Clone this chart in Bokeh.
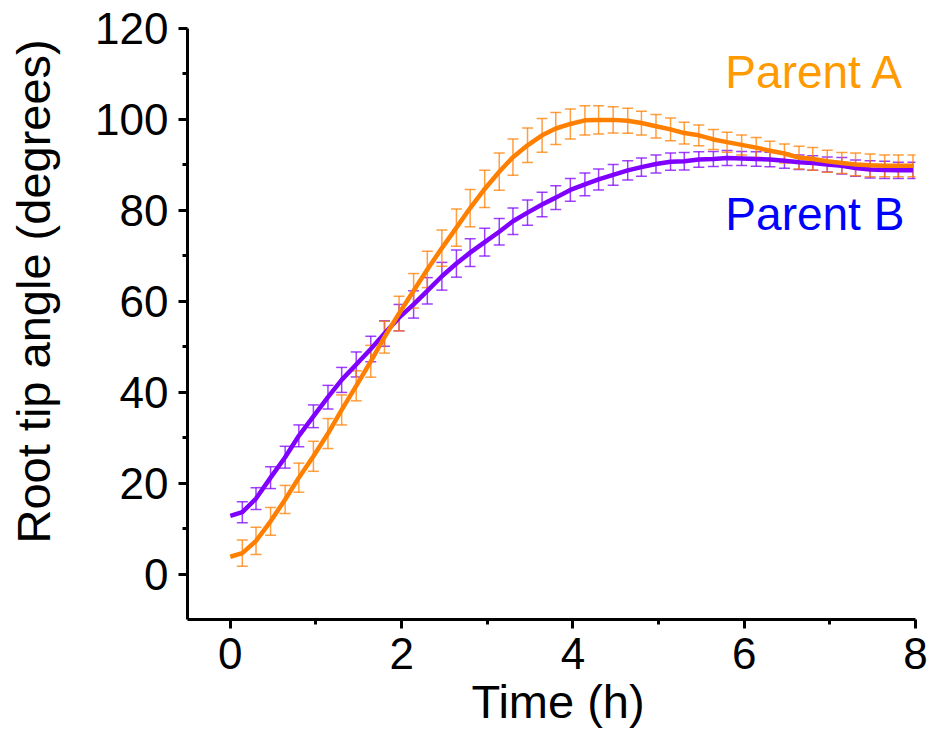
from bokeh.plotting import figure
from bokeh.models import ColumnDataSource, Whisker, TeeHead, Label, FixedTicker, Range1d
from bokeh.embed import file_html
from bokeh.resources import INLINE

time_h = [0, 0.14, 0.30, 0.47, 0.64, 0.80, 0.97,
          1.14, 1.30, 1.47, 1.64, 1.80, 1.97,
          2.14, 2.30, 2.47, 2.64, 2.80, 2.97,
          3.14, 3.30, 3.47, 3.64, 3.80, 3.97,
          4.14, 4.30, 4.47, 4.64, 4.80, 4.97,
          5.14, 5.30, 5.47, 5.64, 5.80, 5.97,
          6.14, 6.30, 6.47, 6.64, 6.80, 6.97,
          7.14, 7.30, 7.47, 7.64, 7.80, 7.97]

parent_a = [3.8, 4.6, 7.3, 11.6, 16.4, 21.2, 25.9, 30.9, 36.1, 41.4, 46.8,
            52.1, 57.3, 62.3, 67.0, 71.7, 76.2, 80.5, 84.7, 88.5, 91.7,
            94.3, 96.5, 98.0, 99.0, 99.8, 99.9, 99.9, 99.7, 99.2, 98.5,
            97.8, 97.0, 96.5, 95.6, 95.0, 94.4, 93.8, 93.1, 92.5, 91.6,
            91.3, 90.8, 90.4, 90.1, 89.9, 89.8, 89.8, 89.8]
parent_a_err = [2.9, 3.0, 3.05, 3.1, 3.2, 3.3, 3.3, 3.3, 3.3, 3.5,
                3.5, 3.8, 3.8, 4.0, 4.0, 4.1, 4.1, 4.1, 4.1, 4.0,
                3.8, 3.7, 3.5, 3.3, 3.2, 3.1, 2.9, 2.75, 2.6, 2.6,
                2.5, 2.4, 2.3, 2.2, 2.2, 2.2, 2.2, 2.1, 2.1, 2.5,
                2.5, 2.4, 2.3, 2.5, 2.5, 2.4, 2.4, 2.4]

parent_b = [12.8, 13.6, 16.6, 21.2, 25.7, 30.4, 34.7, 38.9, 42.7, 46.1, 49.5,
            52.9, 56.4, 59.3, 62.3, 65.5, 68.3, 70.7, 73.0, 75.3, 77.6,
            79.5, 81.3, 82.8, 84.5, 85.7, 86.8, 87.8, 88.8, 89.5, 90.2,
            90.7, 90.8, 91.2, 91.3, 91.5, 91.4, 91.3, 91.2, 90.9, 90.6,
            90.4, 90.1, 89.8, 89.3, 89.0, 88.9, 88.8, 88.8]
parent_b_err = [2.3, 2.4, 2.4, 2.4, 2.4, 2.5, 2.6, 2.75, 2.75, 2.8,
                2.8, 2.9, 3.0, 2.9, 3.05, 3.0, 3.05, 3.05, 2.9, 2.9,
                2.8, 2.7, 2.6, 2.5, 2.5, 2.3, 2.3, 2.1, 2.0, 2.0,
                1.9, 1.9, 1.7, 1.65, 1.65, 1.55, 1.6, 1.6, 1.65, 1.6,
                1.6, 1.65, 1.8, 1.8, 1.9, 1.9, 1.8, 1.8]

x_ticks = [0, 2, 4, 6, 8]
x_minor = [1, 3, 5, 7]
y_ticks = [0, 20, 40, 60, 80, 100, 120]
y_minor = [10, 30, 50, 70, 90, 110]

ORANGE = "#FF7F00"
PURPLE = "#7F00FF"
FONT = "Liberation Sans"

p = figure(width=933, height=735, output_backend="svg", toolbar_location=None,
           x_range=Range1d(-0.5, 8), y_range=Range1d(-10, 120),
           min_border_left=187, min_border_right=18, min_border_top=28,
           min_border_bottom=116)
p.outline_line_color = None
p.grid.visible = False
p.background_fill_color = "white"
p.border_fill_color = "white"

for ax in (p.xaxis[0], p.yaxis[0]):
    ax.axis_line_width = 3
    ax.axis_line_color = "black"
    ax.major_tick_line_width = 3
    ax.minor_tick_line_width = 3
    ax.major_tick_out = 9
    ax.major_tick_in = 0
    ax.minor_tick_out = 5
    ax.minor_tick_in = 0
    ax.major_label_text_font = FONT
    ax.major_label_text_font_size = "44px"
    ax.major_label_text_color = "black"
    ax.axis_label_text_font = FONT
    ax.axis_label_text_font_size = "47px"
    ax.axis_label_text_font_style = "normal"
    ax.axis_label_text_color = "black"

p.xaxis.ticker = FixedTicker(ticks=x_ticks, minor_ticks=x_minor)
p.yaxis.ticker = FixedTicker(ticks=y_ticks, minor_ticks=y_minor)
p.xaxis.major_label_standoff = 9
p.yaxis.major_label_standoff = 10
p.xaxis.axis_label = "\u00a0Time (h)"
p.yaxis.axis_label = "\u00a0\u00a0\u00a0\u00a0\u00a0Root tip angle (degrees)"
p.xaxis.axis_label_standoff = 3
p.yaxis.axis_label_standoff = 32

def add_series(vals, errs, color):
    src = ColumnDataSource(dict(
        t=time_h[1:],
        upper=[v + e for v, e in zip(vals[1:], errs)],
        lower=[v - e for v, e in zip(vals[1:], errs)],
    ))
    w = Whisker(base="t", upper="upper", lower="lower", source=src,
                dimension="height", line_color=color, line_width=1.5,
                line_alpha=0.75,
                upper_head=TeeHead(size=11, line_color=color, line_width=1.5, line_alpha=0.75),
                lower_head=TeeHead(size=11, line_color=color, line_width=1.5, line_alpha=0.75))
    p.add_layout(w)
    p.line(time_h, vals, line_color=color, line_width=4.5)

add_series(parent_b, parent_b_err, PURPLE)
add_series(parent_a, parent_a_err, ORANGE)

# series labels
p.add_layout(Label(x=5.78, y=110.5, text="Parent A", text_font=FONT,
                   text_font_size="46px", text_color="#FF9A00",
                   text_baseline="alphabetic"))
p.add_layout(Label(x=5.78, y=79.2, text="Parent B", text_font=FONT,
                   text_font_size="46px", text_color="#0000FF",
                   text_baseline="alphabetic"))

open("out.html", "w").write(file_html(p, INLINE))
